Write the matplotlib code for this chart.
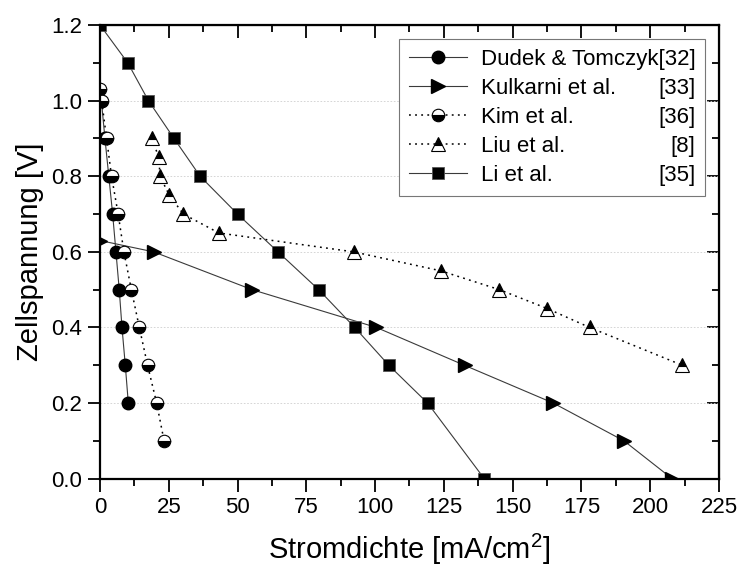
import numpy as np
import matplotlib
matplotlib.use('Agg')
import matplotlib.pyplot as plt
from matplotlib.ticker import MultipleLocator, FormatStrFormatter, NullFormatter

plt.rcParams['font.family'] = ['Liberation Sans', 'DejaVu Sans']
plt.rcParams['mathtext.default'] = 'regular'

# current density [mA/cm2] and cell voltage [V]
dudek_x = [0.5, 1.8, 3.2, 4.6, 5.8, 7.0, 8.0, 9.2, 10.3]
dudek_y = [1.0, 0.9, 0.8, 0.7, 0.6, 0.5, 0.4, 0.3, 0.2]

kulkarni_x = [0.0, 19.5, 55.3, 100.5, 132.5, 164.8, 190.5, 208.0]
kulkarni_y = [0.63, 0.6, 0.5, 0.4, 0.3, 0.2, 0.1, 0.0]

kim_x = [0.0, 0.6, 2.4, 4.2, 6.6, 8.7, 11.4, 14.3, 17.3, 20.6, 23.3]
kim_y = [1.03, 1.0, 0.9, 0.8, 0.7, 0.6, 0.5, 0.4, 0.3, 0.2, 0.1]

liu_x = [18.8, 21.4, 21.8, 25.2, 30.3, 43.2, 92.2, 123.8, 145.2, 162.6, 178.0, 211.7]
liu_y = [0.9, 0.85, 0.8, 0.75, 0.7, 0.65, 0.6, 0.55, 0.5, 0.45, 0.4, 0.3]

li_x = [0.0, 10.1, 17.6, 26.9, 36.4, 50.0, 64.7, 79.5, 92.6, 105.0, 119.1, 139.7]
li_y = [1.2, 1.1, 1.0, 0.9, 0.8, 0.7, 0.6, 0.5, 0.4, 0.3, 0.2, 0.0]

names = ['Dudek & Tomczyk', 'Kulkarni et al.', 'Kim et al.', 'Liu et al.', 'Li et al.']
refs = ['[32]', '[33]', '[36]', '[8]', '[35]']

fig = plt.figure(figsize=(7.39, 5.67), dpi=100)
ax = fig.add_axes([0.1353, 0.1557, 0.8376, 0.8002])

lc = '#3a3a3a'
dot = (0, (1.2, 2.8))
ax.plot(dudek_x, dudek_y, '-', color=lc, lw=0.8, marker='o', ms=9,
        mfc='black', mec='black', label=names[0] + refs[0])
ax.plot(kulkarni_x, kulkarni_y, '-', color=lc, lw=0.8, marker='>', ms=9.5,
        mfc='black', mec='black', label=names[1])
ax.plot(kim_x, kim_y, linestyle=dot, color='black', lw=1.1, marker='o', ms=9,
        fillstyle='bottom', mfc='black', mfcalt='white', mec='black', mew=0.8,
        label=names[2])
ax.plot(liu_x, liu_y, linestyle=dot, color='black', lw=1.1, marker='^', ms=10,
        fillstyle='top', mfc='black', mfcalt='white', mec='black', mew=0.8,
        label=names[3])
ax.plot(li_x, li_y, '-', color=lc, lw=0.8, marker='s', ms=8,
        mfc='black', mec='#555555', mew=0.6, label=names[4])

ax.set_xlim(0, 225)
ax.set_ylim(0, 1.2)
ax.xaxis.set_major_locator(MultipleLocator(25))
ax.xaxis.set_minor_locator(MultipleLocator(12.5))
ax.yaxis.set_major_locator(MultipleLocator(0.2))
ax.yaxis.set_minor_locator(MultipleLocator(0.1))
ax.yaxis.set_major_formatter(FormatStrFormatter('%.1f'))
ax.tick_params(which='both', direction='out', width=1.3, labelsize=16, pad=4)
ax.tick_params(which='major', length=9)
ax.tick_params(which='minor', length=5)
for s in ax.spines.values():
    s.set_linewidth(1.6)

ax.yaxis.grid(True, which='major', color='#cfcfcf', lw=0.6, linestyle=(0, (2, 2)))
ax.set_axisbelow(True)

top = ax.secondary_xaxis('top')
top.xaxis.set_major_locator(MultipleLocator(25))
top.xaxis.set_minor_locator(MultipleLocator(12.5))
top.xaxis.set_major_formatter(NullFormatter())
top.tick_params(which='both', direction='in', width=1.3)
top.tick_params(which='major', length=9)
top.tick_params(which='minor', length=5)
right = ax.secondary_yaxis('right')
right.yaxis.set_major_locator(MultipleLocator(0.2))
right.yaxis.set_minor_locator(MultipleLocator(0.1))
right.yaxis.set_major_formatter(NullFormatter())
right.tick_params(which='both', direction='in', width=1.3)
right.tick_params(which='major', length=9)
right.tick_params(which='minor', length=5)

ax.set_xlabel('Stromdichte [mA/cm$^{2}$]', fontsize=21)
ax.set_ylabel('Zellspannung [V]', fontsize=21)
ax.xaxis.set_label_coords(0.5, -0.118)
ax.yaxis.set_label_coords(-0.09, 0.5)

leg = ax.legend(loc='upper right', bbox_to_anchor=(0.978, 0.97), borderaxespad=0,
                fontsize=16, handlelength=2.6, handletextpad=0.6, labelspacing=0.36,
                fancybox=False, edgecolor='#777777', framealpha=1, borderpad=0.45)
leg.get_frame().set_linewidth(0.8)

# right-aligned references next to the legend names
fig.canvas.draw()
texts = leg.get_texts()
x_right = texts[0].get_window_extent().x1
inv = fig.transFigure.inverted()
for t, r in zip(texts[1:], refs[1:]):
    bb = t.get_window_extent()
    x, y = inv.transform((x_right, bb.y0))
    fig.text(x, y, r, ha='right', va='bottom', fontsize=16, zorder=10)

fig.savefig('out.png', dpi=100)
